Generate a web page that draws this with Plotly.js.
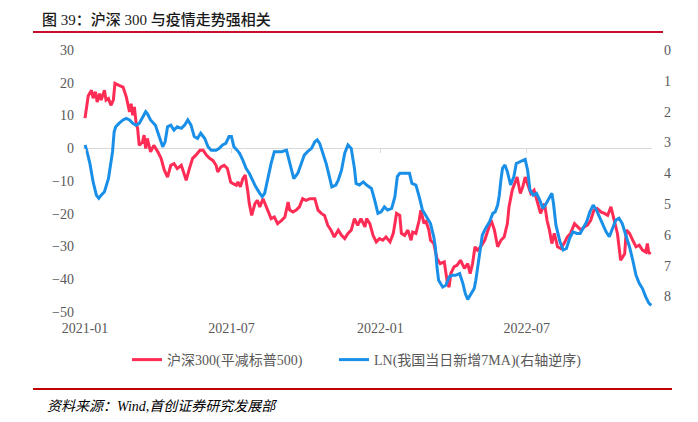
<!DOCTYPE html>
<html>
<head>
<meta charset="utf-8">
<script src="https://cdn.plot.ly/plotly-3.0.1.min.js"></script>
<style>html,body{margin:0;padding:0;background:#fff;}#chart{width:698px;height:422px;}</style>
</head>
<body>
<div id="chart"></div>
<script>
const hs300Dates = ["2021-01-01","2021-01-03","2021-01-05","2021-01-09","2021-01-11","2021-01-14","2021-01-16","2021-01-19","2021-01-21","2021-01-25","2021-01-27","2021-01-30","2021-02-02","2021-02-05","2021-02-07","2021-02-12","2021-02-17","2021-02-21","2021-02-23","2021-02-25","2021-02-27","2021-03-01","2021-03-03","2021-03-05","2021-03-07","2021-03-09","2021-03-13","2021-03-15","2021-03-17","2021-03-19","2021-03-23","2021-03-27","2021-04-01","2021-04-05","2021-04-09","2021-04-13","2021-04-17","2021-04-21","2021-04-25","2021-04-30","2021-05-04","2021-05-06","2021-05-10","2021-05-14","2021-05-18","2021-05-23","2021-05-27","2021-05-31","2021-06-04","2021-06-08","2021-06-12","2021-06-14","2021-06-18","2021-06-22","2021-06-26","2021-06-30","2021-07-03","2021-07-07","2021-07-09","2021-07-12","2021-07-15","2021-07-18","2021-07-21","2021-07-23","2021-07-26","2021-07-30","2021-08-02","2021-08-05","2021-08-09","2021-08-13","2021-08-17","2021-08-19","2021-08-23","2021-08-27","2021-09-01","2021-09-05","2021-09-09","2021-09-11","2021-09-15","2021-09-19","2021-09-23","2021-09-27","2021-10-01","2021-10-06","2021-10-12","2021-10-16","2021-10-20","2021-10-24","2021-10-28","2021-11-01","2021-11-05","2021-11-10","2021-11-14","2021-11-18","2021-11-22","2021-11-26","2021-11-30","2021-12-04","2021-12-08","2021-12-13","2021-12-15","2021-12-19","2021-12-23","2021-12-27","2021-12-31","2022-01-04","2022-01-08","2022-01-13","2022-01-17","2022-01-21","2022-01-25","2022-01-27","2022-01-31","2022-02-04","2022-02-08","2022-02-10","2022-02-14","2022-02-18","2022-02-20","2022-02-24","2022-02-26","2022-03-02","2022-03-04","2022-03-08","2022-03-12","2022-03-16","2022-03-21","2022-03-25","2022-03-27","2022-03-29","2022-04-02","2022-04-06","2022-04-10","2022-04-15","2022-04-19","2022-04-22","2022-04-25","2022-04-28","2022-05-01","2022-05-05","2022-05-10","2022-05-14","2022-05-18","2022-05-22","2022-05-26","2022-05-30","2022-06-03","2022-06-07","2022-06-09","2022-06-13","2022-06-17","2022-06-19","2022-06-23","2022-06-26","2022-06-29","2022-07-02","2022-07-06","2022-07-10","2022-07-14","2022-07-18","2022-07-23","2022-07-26","2022-07-29","2022-08-01","2022-08-04","2022-08-08","2022-08-12","2022-08-16","2022-08-20","2022-08-24","2022-08-29","2022-09-02","2022-09-06","2022-09-10","2022-09-14","2022-09-18","2022-09-22","2022-09-26","2022-10-01","2022-10-05","2022-10-09","2022-10-13","2022-10-17","2022-10-21","2022-10-25","2022-10-30","2022-11-01","2022-11-05","2022-11-09","2022-11-13","2022-11-17","2022-11-21","2022-11-25","2022-11-27","2022-11-29","2022-12-01"];
const hs300Values = [9.2,13.1,16.0,17.7,15.3,17.2,14.1,16.7,14.7,17.7,14.7,15.2,13.1,14.7,19.8,19.2,18.7,15.7,13.1,11.1,13.6,10.1,12.6,8.0,6.0,0.9,1.9,4.0,-0.1,3.0,-1.1,0.9,-1.1,-3.1,-6.7,-8.8,-5.2,-4.7,-6.2,-5.2,-8.2,-9.8,-6.2,-3.1,-2.1,-0.6,-0.6,-2.1,-3.1,-3.7,-5.2,-7.2,-5.7,-5.2,-6.2,-10.3,-10.8,-11.3,-10.3,-11.8,-9.3,-8.2,-12.8,-16.9,-20.5,-16.9,-15.9,-17.9,-15.4,-17.9,-19.9,-21.5,-21.0,-23.0,-22.0,-21.0,-16.4,-18.9,-19.5,-18.9,-17.9,-15.4,-15.9,-15.4,-15.4,-18.9,-19.9,-20.5,-23.5,-25.0,-27.1,-25.0,-26.6,-27.6,-26.0,-25.0,-21.5,-23.5,-21.5,-24.0,-21.5,-23.0,-26.6,-28.6,-27.6,-28.1,-27.1,-28.6,-26.0,-19.9,-20.5,-26.0,-26.6,-25.0,-28.1,-25.6,-26.0,-22.0,-18.9,-23.0,-22.0,-25.0,-28.1,-29.1,-33.7,-35.2,-34.7,-41.3,-42.4,-38.3,-36.2,-35.7,-34.2,-36.7,-35.2,-38.3,-35.2,-30.1,-31.1,-30.1,-28.1,-25.0,-22.0,-25.0,-30.1,-28.1,-27.1,-23.0,-17.9,-12.8,-10.3,-8.8,-13.8,-11.8,-8.8,-10.8,-13.8,-12.8,-16.4,-19.9,-16.9,-22.0,-25.0,-29.1,-26.0,-30.1,-30.6,-29.1,-27.1,-26.0,-23.0,-24.0,-25.0,-24.0,-23.5,-22.0,-18.9,-18.4,-19.5,-19.9,-20.5,-17.9,-22.0,-26.0,-34.2,-32.2,-25.0,-26.0,-28.1,-30.1,-29.6,-31.1,-31.7,-29.1,-32.2,-31.7];

const lnDates = ["2021-01-01","2021-01-03","2021-01-07","2021-01-11","2021-01-15","2021-01-18","2021-01-21","2021-01-25","2021-01-30","2021-02-02","2021-02-04","2021-02-06","2021-02-08","2021-02-12","2021-02-17","2021-02-21","2021-02-25","2021-03-01","2021-03-05","2021-03-09","2021-03-13","2021-03-17","2021-03-19","2021-03-23","2021-03-29","2021-04-02","2021-04-07","2021-04-10","2021-04-13","2021-04-17","2021-04-21","2021-04-25","2021-04-30","2021-05-04","2021-05-08","2021-05-12","2021-05-16","2021-05-20","2021-05-24","2021-05-29","2021-06-02","2021-06-06","2021-06-12","2021-06-16","2021-06-20","2021-06-24","2021-06-28","2021-07-01","2021-07-04","2021-07-08","2021-07-11","2021-07-15","2021-07-19","2021-07-23","2021-07-27","2021-07-31","2021-08-05","2021-08-08","2021-08-11","2021-08-15","2021-08-19","2021-08-23","2021-08-27","2021-09-01","2021-09-07","2021-09-09","2021-09-13","2021-09-16","2021-09-21","2021-09-25","2021-09-29","2021-10-03","2021-10-08","2021-10-12","2021-10-15","2021-10-18","2021-10-22","2021-10-26","2021-10-30","2021-11-02","2021-11-07","2021-11-10","2021-11-14","2021-11-18","2021-11-22","2021-11-26","2021-11-30","2021-12-02","2021-12-06","2021-12-11","2021-12-15","2021-12-21","2021-12-25","2021-12-29","2022-01-02","2022-01-06","2022-01-10","2022-01-15","2022-01-19","2022-01-22","2022-01-25","2022-01-31","2022-02-06","2022-02-09","2022-02-14","2022-02-18","2022-02-22","2022-02-26","2022-03-04","2022-03-08","2022-03-10","2022-03-12","2022-03-14","2022-03-19","2022-03-23","2022-03-27","2022-03-31","2022-04-04","2022-04-09","2022-04-13","2022-04-16","2022-04-19","2022-04-23","2022-04-27","2022-04-29","2022-05-03","2022-05-07","2022-05-11","2022-05-16","2022-05-20","2022-05-23","2022-05-26","2022-05-28","2022-05-30","2022-06-01","2022-06-04","2022-06-07","2022-06-11","2022-06-15","2022-06-18","2022-06-23","2022-06-29","2022-07-02","2022-07-05","2022-07-09","2022-07-13","2022-07-17","2022-07-21","2022-07-25","2022-07-29","2022-08-01","2022-08-03","2022-08-06","2022-08-11","2022-08-15","2022-08-19","2022-08-23","2022-08-27","2022-09-01","2022-09-05","2022-09-09","2022-09-13","2022-09-17","2022-09-21","2022-09-25","2022-09-29","2022-10-03","2022-10-07","2022-10-11","2022-10-15","2022-10-19","2022-10-23","2022-10-27","2022-11-01","2022-11-05","2022-11-09","2022-11-13","2022-11-17","2022-11-21","2022-11-25","2022-11-29","2022-12-02"];
const lnValues = [3.08,3.25,3.68,4.28,4.71,4.81,4.71,4.60,4.17,3.73,3.30,2.65,2.49,2.38,2.27,2.22,2.27,2.38,2.44,2.38,2.17,2.00,2.06,2.27,2.44,2.76,3.14,2.98,2.49,2.44,2.60,2.49,2.54,2.44,2.27,2.44,2.81,2.87,2.70,2.87,3.14,3.25,3.25,3.19,3.08,3.03,2.81,2.81,3.14,3.25,3.35,3.57,3.84,4.00,4.22,4.44,4.65,4.76,4.65,4.11,3.68,3.30,3.30,3.30,3.25,3.46,3.90,4.17,4.00,3.68,3.41,3.30,3.19,2.98,2.92,3.03,3.35,3.68,4.11,4.44,4.38,4.22,3.90,3.35,3.08,3.19,3.84,4.33,4.38,4.28,4.38,4.49,4.87,5.30,5.25,5.09,5.19,5.14,4.76,4.11,4.00,4.00,4.00,4.33,4.38,4.76,5.19,5.36,5.63,6.06,6.39,7.04,7.47,7.69,7.63,7.36,7.31,7.31,7.25,7.57,7.90,8.09,7.90,7.74,7.47,6.71,6.01,5.79,5.57,5.30,5.25,5.03,4.71,4.22,3.84,3.73,3.95,4.38,4.11,3.68,3.63,3.55,3.90,4.55,4.71,4.65,4.87,5.14,4.98,4.76,4.65,4.98,5.68,6.22,6.49,6.44,6.11,5.90,5.95,5.95,5.74,5.57,5.25,5.03,5.19,5.41,5.63,5.90,6.06,5.79,5.52,5.46,5.63,6.06,6.39,6.82,7.31,7.57,7.74,8.01,8.22,8.28];

const seriesNames = ["沪深300(平减标普500)", "LN(我国当日新增7MA)(右轴逆序)"];
const leftTicks = [30, 20, 10, 0, -10, -20, -30, -40, -50];
const rightTicks = [0, 1, 2, 3, 4, 5, 6, 7, 8];
const titleText = "图 39：沪深 300 与疫情走势强相关";
const sourceText = "资料来源：Wind,首创证券研究发展部";

const FONT = "'Liberation Serif', 'Times New Roman', 'Noto Sans CJK SC', serif";
const GRAY = "#595959";
const xRange = ["2020-12-29 12:00", "2022-12-02 18:00"];

const traces = [
  {x: hs300Dates, y: hs300Values, name: seriesNames[0], type: "scatter", mode: "lines",
   line: {color: "#FF2D55", width: 3}, yaxis: "y", xaxis: "x", hoverinfo: "skip", legend: "legend"},
  {x: lnDates, y: lnValues, name: seriesNames[1], type: "scatter", mode: "lines",
   line: {color: "#1A8FE8", width: 3}, yaxis: "y2", xaxis: "x", hoverinfo: "skip", legend: "legend2"},
  {x: [], y: [], xaxis: "x2", yaxis: "y", showlegend: false, hoverinfo: "skip", type: "scatter", mode: "lines"}
];

const legendBase = {orientation: "h", xanchor: "left", y: (312-360)/262, yanchor: "middle",
  font: {family: FONT, size: 14, color: GRAY}, itemwidth: 30, bgcolor: "rgba(0,0,0,0)"};

const layout = {
  width: 698, height: 422,
  margin: {l: 83, r: 46, t: 50, b: 110},
  paper_bgcolor: "#fff", plot_bgcolor: "#fff",
  showlegend: true,
  font: {family: FONT, color: GRAY, size: 14},
  title: {text: titleText, x: 42/698, xanchor: "left", xref: "container",
          y: 1 - 20/422, yanchor: "middle", yref: "container",
          font: {family: "'Liberation Serif', 'Noto Sans CJK SC', serif", size: 15, color: "#1a1a1a", weight: 500}},
  xaxis: {type: "date", range: xRange, tickformat: "%Y-%m", dtick: "M6", tick0: "2021-01-01",
          showgrid: false, zeroline: false, showline: false, ticks: "", ticklabelstandoff: 6,
          tickfont: {family: FONT, size: 14, color: GRAY}},
  xaxis2: {type: "date", range: xRange, overlaying: "x", anchor: "free", position: 0.625,
           dtick: "M6", tick0: "2021-01-01", showticklabels: false, showgrid: false, zeroline: false,
           showline: false, ticks: "outside", ticklen: 4, tickcolor: "#d9d9d9", tickwidth: 1},
  yaxis: {range: [-50, 30], tickvals: leftTicks, showgrid: false, zeroline: true,
          zerolinecolor: "#d9d9d9", zerolinewidth: 1.5, showline: false, ticks: "",
          ticklabelstandoff: 8, tickfont: {family: FONT, size: 14, color: GRAY}},
  yaxis2: {range: [8.5, 0], tickvals: rightTicks, overlaying: "y", side: "right", showgrid: false,
           zeroline: false, showline: false, ticks: "", ticklabelstandoff: 11,
           tickfont: {family: FONT, size: 14, color: GRAY}},
  legend: Object.assign({}, legendBase, {x: (127-83)/569}),
  legend2: Object.assign({}, legendBase, {x: (334-83)/569}),
  shapes: [
    {type: "line", xref: "paper", yref: "paper", x0: (33-83)/569, x1: (663-83)/569,
     y0: (312-32)/262, y1: (312-32)/262, line: {color: "#C8102E", width: 2}},
    {type: "line", xref: "paper", yref: "paper", x0: (33-83)/569, x1: (672-83)/569,
     y0: (312-389)/262, y1: (312-389)/262, line: {color: "#C00000", width: 2}}
  ],
  annotations: [
    {text: sourceText, xref: "paper", yref: "paper", x: (45-83)/569, y: (312-406)/262,
     xanchor: "left", yanchor: "middle", showarrow: false,
     font: {family: FONT, size: 14, color: "#000", style: "italic"}}
  ]
};

Plotly.newPlot("chart", traces, layout, {staticPlot: true, displayModeBar: false});
</script>
</body>
</html>
